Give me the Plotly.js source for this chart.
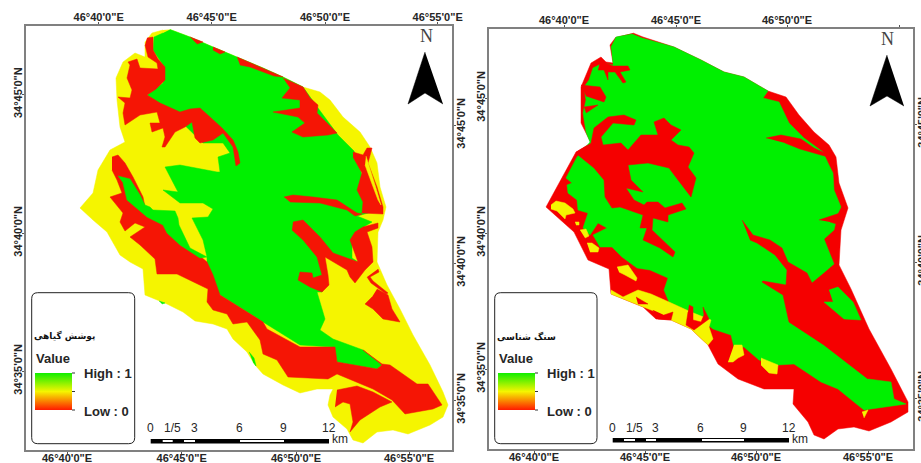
<!DOCTYPE html>
<html><head><meta charset="utf-8">
<script src="https://cdn.plot.ly/plotly-3.0.1.min.js"></script>
<style>html,body{margin:0;padding:0;background:#fff}#c{width:921px;height:463px}</style>
</head><body><div id="c"></div>
<script>
// Map units: one grid unit per reference pixel, both panels on their own axes.
const vegOutline=[[170,29.5],[190,37],[213,47],[237,57],[263,68],[283,77],[303,87],[320,92],[330,100],[343,117],[360,132],[370,147],[377,163],[380,187],[386,207],[383,220],[378,232],[377,262],[387,285],[400,309],[413,335],[430,365],[443,392],[448,405],[443,417],[430,425],[408,434],[393,430],[377,432],[363,443],[353,440],[347,429],[333,417],[328,405],[330,395],[333,389],[317,389],[300,393],[283,385],[263,374],[255,365],[247,352],[233,339],[227,329],[213,324],[195,321],[183,312],[167,304],[145,295],[143,269],[130,262],[120,255],[113,242],[107,232],[93,220],[80,208],[93,193],[98,170],[110,150],[125,142],[120,127],[117,100],[116,78],[123,62],[135,53],[145,57],[145,42],[152,33],[163,30]];
const vegGreenMain=[[170,29.5],[190,37],[213,47],[237,57],[263,68],[283,77],[303,87],[318,108],[338,135],[354,151],[362,175],[368,200],[372,212],[357,216],[372,222],[362,228],[352,240],[352,258],[358,262],[345,258],[325,255],[322,262],[326,285],[322,292],[317,292],[325,319],[320,330],[333,339],[363,350],[382,365],[377,369],[353,365],[337,362],[333,347],[300,345],[263,322],[220,295],[207,275],[207,257],[203,240],[192,218],[208,217],[213,209],[203,203],[180,203],[163,190],[178,192],[165,167],[180,165],[217,172],[220,172],[218,157],[230,153],[223,143],[203,143],[172,113],[147,95],[163,83],[165,68],[153,50],[154,37],[163,33]];
const vegRedTopLeft=[[147,38],[153,37],[153,50],[158,59],[165,67],[165,80],[156,89],[147,95],[160,103],[180,112],[190,109],[200,108],[210,117],[222,128],[233,140],[238,152],[240,163],[236,166],[233,147],[223,133],[213,140],[200,143],[195,138],[192,122],[185,127],[175,132],[165,147],[162,147],[165,137],[163,128],[152,132],[150,123],[160,123],[157,112],[140,115],[125,125],[123,113],[125,103],[118,97],[130,98],[132,90],[127,78],[130,65],[128,62],[137,59],[140,68],[158,69],[157,63],[148,57],[145,45]];
const vegRedBand=[[112,157],[118,155],[125,163],[133,177],[143,197],[145,207],[152,212],[165,224],[172,236],[182,246],[200,256],[207,262],[213,275],[220,295],[263,322],[267,329],[300,347],[335,347],[337,362],[353,365],[377,369],[382,365],[363,350],[382,364],[390,365],[417,384],[428,384],[442,405],[433,409],[405,414],[392,400],[373,389],[337,374],[328,379],[288,377],[277,360],[263,354],[260,340],[247,322],[233,324],[227,314],[213,310],[207,302],[208,289],[193,282],[177,274],[157,274],[155,259],[140,245],[130,237],[145,227],[135,223],[125,231],[120,222],[123,213],[110,197],[122,193],[117,180],[112,170]];
const vegGreenStrip=[[118,176],[130,179],[140,195],[145,205],[150,207],[153,210],[175,211],[178,218],[179,225],[190,248],[207,257],[200,258],[180,245],[167,233],[163,225],[147,217],[127,200],[123,183]];
const vegRedLowerBlob=[[337,390],[357,386],[373,392],[392,402],[380,407],[372,412],[360,420],[350,432],[353,422],[350,404],[343,402],[335,407]];
const vegRedRightPatch=[[377,289],[388,295],[392,309],[400,322],[383,319],[373,309],[365,304],[372,297]];
const vegRedSquiggle=[[378,269],[379,272],[370,277],[373,281],[388,293],[386,294],[371,283],[367,277]];
const vegRedEdgeA=[[190,37],[203,42],[197,44]];
const vegRedEdgeB=[[213,47],[225,52],[220,54],[213,50]];
const vegRedEdgeC=[[237,57],[283,77],[274,76],[250,67],[240,65]];
const vegRedTopRight=[[283,78],[303,87],[310,98],[318,105],[317,113],[337,133],[328,135],[303,137],[292,132],[305,123],[298,117],[273,112],[300,108],[300,100],[282,98],[290,88]];
const vegRedRightStrip=[[353,152],[363,155],[367,148],[372,148],[368,163],[377,187],[383,207],[383,214],[362,213],[363,202],[357,190],[362,173],[353,157]];
const vegYellowSliver=[[366,156],[369,165],[376,188],[381,205],[378,200],[372,184],[365,165]];
const vegRedFinger=[[284,197],[293,195],[313,197],[337,200],[357,213],[362,214],[355,216],[347,210],[320,203],[290,202]];
const vegRedHook=[[293,222],[303,220],[320,237],[333,253],[358,262],[350,240],[355,232],[363,227],[378,223],[378,228],[367,232],[372,247],[373,262],[365,270],[355,283],[350,277],[347,270],[325,257],[328,275],[329,285],[322,292],[310,287],[298,280],[300,272],[312,273],[313,278],[322,275],[317,257],[303,240],[292,230]];
const vegGreenSpeckA=[[159,301],[165,303],[162,304]];
const vegGreenSpeckB=[[249,352],[254,358],[256,366],[253,362]];

const geoOutline=[[633,33],[643,37],[674,47],[701,60],[724,72],[744,77],[768,91],[786,97],[799,115],[814,132],[829,145],[836,157],[839,183],[848,208],[841,230],[839,265],[851,289],[869,329],[891,369],[908,402],[908,412],[891,422],[869,431],[854,427],[838,429],[824,439],[814,435],[808,422],[793,404],[794,389],[764,389],[738,379],[718,364],[708,345],[691,329],[671,320],[656,319],[643,307],[611,294],[609,269],[588,260],[574,232],[546,207],[561,180],[576,152],[591,143],[581,123],[581,87],[591,63],[601,57],[606,62],[613,63],[610,45],[616,37]];
const geoGreenMain=[[611,47],[616,37],[632,34],[642,38],[674,47],[701,60],[724,72],[744,77],[768,91],[763,98],[779,102],[789,123],[804,138],[823,152],[828,163],[833,173],[834,190],[841,207],[838,213],[834,230],[824,239],[834,264],[814,282],[789,322],[824,345],[868,379],[891,382],[894,399],[906,404],[864,410],[854,402],[838,389],[821,382],[794,364],[778,365],[759,360],[744,347],[734,347],[731,335],[713,329],[691,312],[669,302],[664,290],[668,278],[650,270],[637,268],[622,257],[612,247],[600,247],[593,235],[607,228],[598,223],[590,235],[583,228],[588,213],[578,210],[577,200],[568,193],[567,185],[572,183],[566,178],[577,157],[590,142],[586,132],[583,113],[586,100],[584,87],[589,80],[593,68],[603,63],[613,65]];
const geoRedCentral=[[591,143],[594,128],[608,117],[624,115],[636,120],[634,125],[613,123],[601,137],[603,145],[621,143],[628,150],[634,143],[641,135],[658,135],[654,122],[664,118],[671,125],[681,130],[671,140],[678,145],[689,147],[694,153],[688,167],[696,178],[691,197],[678,180],[669,168],[648,163],[628,165],[631,180],[643,192],[626,188],[634,200],[644,205],[647,202],[658,202],[665,208],[682,203],[686,209],[668,215],[668,222],[653,218],[652,230],[675,252],[673,257],[660,248],[643,240],[647,228],[640,228],[643,215],[620,207],[612,208],[605,197],[604,180],[594,168],[578,155],[576,152]];
const geoRedFingersNW=[[601,58],[606,63],[613,66],[628,66],[630,70],[620,72],[626,82],[623,83],[615,72],[608,72],[608,80],[604,70],[598,70]];
const geoRedFingerW=[[581,85],[600,87],[606,97],[604,102],[586,96]];
const geoRedFingerW2=[[584,107],[598,105],[586,113]];
const geoRedFingerE=[[766,138],[781,135],[801,139],[814,148],[829,155],[828,157],[800,149],[785,143]];
const geoRedNotchE=[[819,220],[840,213],[840,225],[830,222]];
const geoRedDelta=[[742,220],[753,235],[770,240],[782,248],[788,262],[807,273],[812,283],[834,265],[845,280],[860,320],[868,379],[824,345],[789,322],[783,295],[762,282],[763,281],[786,285],[787,270],[775,255],[757,243],[750,240]];
const geoGreenIsland=[[829,290],[838,287],[853,302],[861,320],[844,319],[833,310],[824,302],[833,302]];
const geoYellowA=[[551,205],[556,201],[565,203],[573,209],[575,213],[566,215],[565,219],[557,211],[551,209]];
const geoYellowB=[[575,222],[579,222],[579,225],[576,225]];
const geoYellowC=[[580,230],[586,229],[589,236],[585,238]];
const geoYellowD=[[587,243],[592,243],[599,248],[598,252],[590,252]];
const geoYellowE=[[617,267],[628,265],[637,278],[636,281],[625,275],[619,272]];
const geoYellowBand=[[611,290],[623,297],[638,290],[651,294],[669,302],[691,312],[711,320],[709,327],[713,339],[708,345],[691,329],[671,320],[656,312],[643,307],[611,294]];
const geoYellowF=[[734,345],[742,345],[744,355],[738,358],[733,362],[728,362]];
const geoYellowG=[[761,358],[778,365],[777,374],[769,373],[761,365]];
const geoYellowH=[[862,412],[868,410],[864,418]];
const geoRedOverA=[[689,305],[693,307],[693,320],[701,322],[704,315],[703,307],[709,319],[694,330],[686,325],[688,312]];
const geoRedOverB=[[653,310],[658,319],[671,320],[673,312],[664,315]];
const geoRedOverC=[[636,297],[648,304],[638,304]];

const lonTopLeft=[98.7,211.7,325,437.7], lonBottomLeft=[67,181.7,296,409];
const latLeftLeft=[94.3,233,371], latRightLeft=[125,263,400];
const lonTopRight=[564,676,787,899], lonBottomRight=[534,645,756,868];
const latLeftRight=[98,233,369], latRightRight=[124,262,398];
const lonLabels=['46°40\'0"E','46°45\'0"E','46°50\'0"E','46°55\'0"E'];
const latLabels=['34°45\'0"N','34°40\'0"N','34°35\'0"N'];
const scaleLabels=['0','1/5','3','6','9','12'];
const scaleXLeft=[150.7,172,194,239,283,329], scaleXRight=[612.7,634,655,700,743,789];
const scaleWhiteLeft=[[162.7,172.7],[184,195],[240,284]], scaleWhiteRight=[[624,635],[646,656],[702,744]];
const arrowLeft=[[425,52],[408,104],[425,93],[443,104]], arrowRight=[[887,55],[870,106],[887,96],[904,106]];
const rampLeft=[[35,373],[72,373],[72,410],[35,410]], rampRight=[[498,373],[535,373],[535,410],[498,410]];

const GREEN='#00f000',YEL='#f5f500',RED1='#f51505',RED2='#f50000';
const F='"Liberation Sans",Arial,sans-serif', TXT='#262626';
function poly(pts,color,xa,ya){return{type:'scatter',mode:'lines',fill:'toself',fillcolor:color,xaxis:xa,yaxis:ya,
  x:pts.map(p=>p[0]),y:pts.map(p=>p[1]),line:{color:color,width:0.5},hoverinfo:'skip',showlegend:false};}
function ramp(pts,xa,ya){const t=poly(pts,'#f5f500',xa,ya);t.line={width:0};t.fillgradient={type:'vertical',colorscale:[[0,'#ff1a00'],[0.5,'#f5f500'],[1,'#10ee00']]};return t;}
const traces=[ramp(rampLeft,'x','y'),ramp(rampRight,'x2','y2')];
[[vegOutline,YEL],[vegGreenMain,GREEN],[vegRedBand,RED1],[vegRedTopLeft,RED1],[vegRedLowerBlob,RED1],[vegRedRightPatch,RED1],[vegRedSquiggle,RED1],[vegRedEdgeA,RED1],[vegRedEdgeB,RED1],[vegRedEdgeC,RED1],[vegRedTopRight,RED1],[vegRedRightStrip,RED1],[vegYellowSliver,YEL],[vegRedFinger,RED1],[vegRedHook,RED1],[vegGreenStrip,GREEN],[vegGreenSpeckA,GREEN],[vegGreenSpeckB,GREEN],[arrowLeft,'#000']]
 .forEach(a=>traces.push(poly(a[0],a[1],'x','y')));
[[geoOutline,RED2],[geoGreenMain,GREEN],[geoRedCentral,RED2],[geoRedFingersNW,RED2],[geoRedFingerW,RED2],[geoRedFingerW2,RED2],[geoRedFingerE,RED2],[geoRedNotchE,RED2],[geoRedDelta,RED2],[geoGreenIsland,GREEN],[geoYellowA,YEL],[geoYellowB,YEL],[geoYellowC,YEL],[geoYellowD,YEL],[geoYellowE,YEL],[geoYellowBand,YEL],[geoYellowF,YEL],[geoYellowG,YEL],[geoYellowH,YEL],[geoRedOverA,RED2],[geoRedOverB,RED2],[geoRedOverC,RED2],[arrowRight,'#000']]
 .forEach(a=>traces.push(poly(a[0],a[1],'x2','y2')));
traces.push({type:'scatter',mode:'markers',x:[100],y:[100],xaxis:'x3',yaxis:'y3',marker:{opacity:0},hoverinfo:'skip',showlegend:false});
traces.push({type:'scatter',mode:'markers',x:[600],y:[100],xaxis:'x4',yaxis:'y4',marker:{opacity:0},hoverinfo:'skip',showlegend:false});

const W=921,H=463;
const L={x0:26,x1:452,y0:450,y1:25.7}, R={x0:489,x1:913,y0:449,y1:28.7};
const tf={family:F,size:11,weight:'bold',color:TXT};
function ax(p,vals,labels,extra){return Object.assign({range:[p.x0,p.x1],domain:[p.x0/W,p.x1/W],tickmode:'array',tickvals:vals,ticktext:labels,
  ticks:'outside',ticklen:2,tickwidth:1,tickcolor:'#555',showgrid:false,zeroline:false,showline:true,linecolor:'#808080',linewidth:2,tickfont:tf,tickangle:0,fixedrange:true,automargin:false,ticklabelstandoff:-4},extra);}
function ay(p,vals,labels,extra){return Object.assign({range:[p.y0,p.y1],domain:[1-p.y0/H,1-p.y1/H],tickmode:'array',tickvals:vals,ticktext:labels,
  ticks:'outside',ticklen:2,tickwidth:1,tickcolor:'#555',showgrid:false,zeroline:false,showline:true,linecolor:'#808080',linewidth:2,tickfont:tf,tickangle:-90,fixedrange:true,automargin:false,ticklabelstandoff:-4},extra);}

const shapes=[],annotations=[];
function note(t,x,y,xa,ya,o){annotations.push(Object.assign({text:t,x:x,y:y,xref:xa,yref:ya,showarrow:false,xanchor:'center',yanchor:'middle',font:{family:F,size:13,color:TXT}},o||{}));}
function roundBox(x0,x1,y0,y1,xa,ya){const r=6;shapes.push({type:'path',xref:xa,yref:ya,line:{color:'#222',width:1},
  path:`M${x0+r},${y0} L${x1-r},${y0} Q${x1},${y0} ${x1},${y0+r} L${x1},${y1-r} Q${x1},${y1} ${x1-r},${y1} L${x0+r},${y1} Q${x0},${y1} ${x0},${y1-r} L${x0},${y0+r} Q${x0},${y0} ${x0+r},${y0} Z`});}
function panel(o){
  roundBox(o.boxX[0],o.boxX[1],292.7,443.7,o.xa,o.ya);
  const rx=o.ramp[1][0];
  [373,391.5,410].forEach(y=>shapes.push({type:'line',xref:o.xa,yref:o.ya,x0:rx,x1:rx+3,y0:y,y1:y,line:{color:'#333',width:1}}));
  note(o.title,o.titleX,336,o.xa,o.ya,{font:{family:'"DejaVu Sans"',size:9,color:'#111',weight:'bold'}});
  note('<b>Value</b>',o.ramp[0][0]-1,358,o.xa,o.ya,{xanchor:'left'});
  note('<b>High : 1</b>',rx+10,373,o.xa,o.ya,{xanchor:'left'});
  note('<b>Low : 0</b>',rx+10,411,o.xa,o.ya,{xanchor:'left'});
  const b=o.scaleY;
  shapes.push({type:'rect',xref:o.xa,yref:o.ya,x0:o.scaleX[0],x1:o.scaleX[5],y0:b,y1:b+4.5,fillcolor:'#000',line:{width:0}});
  o.white.forEach(s=>shapes.push({type:'rect',xref:o.xa,yref:o.ya,x0:s[0],x1:s[1],y0:b+1,y1:b+3,fillcolor:'#fff',line:{width:0}}));
  scaleLabels.forEach((t,i)=>note(t,o.scaleX[i],428,o.xa,o.ya,{font:{family:F,size:12,color:TXT}}));
  note('km',o.scaleX[5]+11,439,o.xa,o.ya,{font:{family:F,size:12,color:TXT}});
  note('N',o.northX,o.northY,o.xa,o.ya,{font:{family:'"Liberation Serif",serif',size:18,color:'#444'}});
}
panel({xa:'x',ya:'y',boxX:[31.7,134.7],ramp:rampLeft,title:'پوشش گیاهی',titleX:64,scaleX:scaleXLeft,white:scaleWhiteLeft,scaleY:439,northX:426,northY:36});
panel({xa:'x2',ya:'y2',boxX:[494.7,597],ramp:rampRight,title:'سنگ شناسی',titleX:526,scaleX:scaleXRight,white:scaleWhiteRight,scaleY:438,northX:887,northY:39});

const layout={width:W,height:H,margin:{l:0,r:0,t:0,b:0},paper_bgcolor:'#fff',plot_bgcolor:'#fff',showlegend:false,shapes,annotations,
 xaxis:ax(L,lonBottomLeft,lonLabels,{anchor:'y',side:'bottom',ticklabelstandoff:-5}),
 yaxis:ay(L,latLeftLeft,latLabels,{anchor:'x',side:'left'}),
 xaxis3:ax(L,lonTopLeft,lonLabels,{anchor:'y3',side:'top',overlaying:'x'}),
 yaxis3:ay(L,latRightLeft,latLabels,{anchor:'x3',side:'right',overlaying:'y'}),
 xaxis2:ax(R,lonBottomRight,lonLabels,{anchor:'y2',side:'bottom',ticklabelstandoff:-5}),
 yaxis2:ay(R,latLeftRight,latLabels,{anchor:'x2',side:'left'}),
 xaxis4:ax(R,lonTopRight,lonLabels,{anchor:'y4',side:'top',overlaying:'x2'}),
 yaxis4:ay(R,latRightRight,latLabels,{anchor:'x4',side:'right',overlaying:'y2'})
};
Plotly.newPlot('c',traces,layout,{displayModeBar:false,staticPlot:true});
</script></body></html>
